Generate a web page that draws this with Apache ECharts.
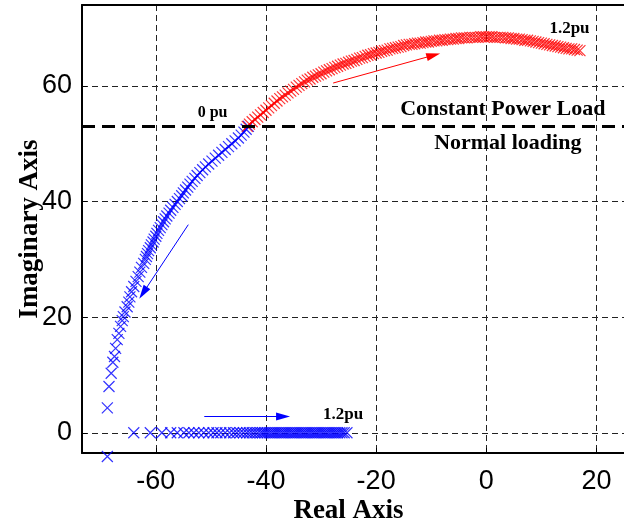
<!DOCTYPE html>
<html>
<head>
<meta charset="utf-8">
<script src="https://cdn.jsdelivr.net/npm/echarts@6/dist/echarts.min.js"></script>
<style>
  html, body { margin: 0; padding: 0; background: #fff; }
  #chart { width: 624px; height: 525px; }
</style>
</head>
<body>
<div id="chart"></div>
<script>
// Tick positions on both axes
const xTicks = [-60, -40, -20, 0, 20];
const yTicks = [0, 20, 40, 60];

// Eigenvalue trace under normal loading (0 pu at the top, moving down-left)
const blueComplexBranch = [
  [-43.2, 53.0], [-43.6, 52.5], [-44.0, 52.0], [-44.5, 51.5], [-45.0, 51.0],
  [-45.6, 50.5], [-46.2, 50.0], [-46.8, 49.5], [-47.4, 49.0], [-48.0, 48.5],
  [-48.6, 48.0], [-49.2, 47.5], [-49.8, 47.0], [-50.4, 46.5], [-51.0, 46.0],
  [-51.5, 45.5], [-52.0, 45.0], [-52.5, 44.5], [-52.9, 44.0], [-53.4, 43.5],
  [-53.8, 43.0], [-54.2, 42.5], [-54.6, 42.0], [-55.0, 41.5], [-55.3, 41.0],
  [-55.7, 40.5], [-56.1, 40.0], [-56.5, 39.5], [-56.9, 39.0], [-57.3, 38.5],
  [-57.6, 38.0], [-58.0, 37.5], [-58.3, 37.0], [-58.6, 36.5], [-58.9, 36.0],
  [-59.2, 35.5], [-59.5, 35.0], [-59.8, 34.5], [-60.0, 34.0], [-60.3, 33.5],
  [-60.5, 33.0], [-60.8, 32.5], [-61.0, 32.0], [-61.3, 31.5], [-61.5, 31.0],
  [-61.7, 30.5], [-61.9, 30.0], [-62.2, 29.3], [-62.6, 28.6], [-62.9, 27.8],
  [-63.2, 27.0], [-63.6, 26.2], [-64.0, 25.3], [-64.4, 24.4], [-64.7, 23.5],
  [-64.9, 22.6], [-65.2, 21.8], [-65.6, 20.9], [-65.9, 20.1], [-66.1, 19.4],
  [-66.4, 18.4], [-66.7, 17.2], [-67.0, 16.1], [-67.3, 14.6], [-67.5, 13.2],
  [-67.8, 12.2], [-68.1, 10.3], [-68.5, 8.0], [-68.8, 4.3], [-68.8, -4.1]
];

// Real-axis branch under normal loading (moves right up to 1.2 pu)
const blueRealBranchRe = [
  -64.0, -61.0, -58.9, -57.3, -56.1, -54.9, -54.0, -53.1, -52.2, -51.3,
  -50.4, -49.6, -48.9, -48.2, -47.4, -46.6, -45.9, -45.3, -44.7, -44.1,
  -43.5, -43.0, -42.5, -42.0, -41.5, -41.0, -40.6, -40.2, -39.8, -39.4,
  -39.0, -38.6, -38.2, -37.8, -37.4, -37.0, -36.6, -36.2, -35.8, -35.4,
  -35.0, -34.6, -34.2, -33.8, -33.4, -33.0, -32.6, -32.2, -31.8, -31.4,
  -31.0, -30.6, -30.2, -29.8, -29.4, -29.0, -28.6, -28.2, -27.8, -27.4,
  -27.0, -26.6, -26.2, -25.8, -25.3
];
const blueRealBranchIm = 0;

// Eigenvalue trace with constant power load (0 pu to 1.2 pu)
const redBranch = [
  [-43.4, 53.0], [-43.0, 53.4], [-42.5, 53.8], [-42.0, 54.2], [-41.5, 54.6],
  [-41.0, 55.0], [-40.5, 55.4], [-40.0, 55.8], [-39.5, 56.2], [-39.0, 56.6],
  [-38.5, 57.0], [-38.0, 57.4], [-37.5, 57.8], [-37.0, 58.1], [-36.5, 58.4],
  [-36.0, 58.8], [-35.5, 59.1], [-35.0, 59.4], [-34.5, 59.8], [-34.0, 60.1],
  [-33.5, 60.4], [-33.0, 60.7], [-32.5, 61.0], [-32.0, 61.2], [-31.5, 61.5],
  [-31.0, 61.7], [-30.5, 61.9], [-30.0, 62.1], [-29.5, 62.4], [-29.0, 62.6],
  [-28.5, 62.8], [-28.0, 63.0], [-27.5, 63.2], [-27.0, 63.4], [-26.5, 63.6],
  [-26.0, 63.8], [-25.5, 63.9], [-25.0, 64.1], [-24.5, 64.3], [-24.0, 64.4],
  [-23.5, 64.6], [-23.0, 64.8], [-22.5, 64.9], [-22.0, 65.1], [-21.5, 65.3],
  [-21.0, 65.4], [-20.5, 65.6], [-20.0, 65.7], [-19.5, 65.8], [-19.0, 66.0],
  [-18.5, 66.1], [-18.0, 66.2], [-17.5, 66.4], [-17.0, 66.5], [-16.5, 66.6],
  [-16.0, 66.7], [-15.5, 66.8], [-15.0, 67.0], [-14.5, 67.1], [-14.0, 67.2],
  [-13.5, 67.2], [-13.0, 67.3], [-12.5, 67.4], [-12.0, 67.4], [-11.5, 67.5],
  [-11.0, 67.6], [-10.5, 67.6], [-10.0, 67.7], [-9.5, 67.8], [-9.0, 67.8],
  [-8.5, 67.9], [-8.0, 67.9], [-7.5, 68.0], [-7.0, 68.0], [-6.5, 68.1],
  [-6.0, 68.1], [-5.5, 68.2], [-5.0, 68.2], [-4.5, 68.3], [-4.0, 68.3],
  [-3.5, 68.3], [-3.0, 68.4], [-2.5, 68.4], [-2.0, 68.4], [-1.5, 68.4],
  [-1.0, 68.5], [-0.5, 68.5], [0.0, 68.5], [0.5, 68.5], [1.0, 68.5],
  [1.5, 68.4], [2.0, 68.4], [2.5, 68.4], [3.0, 68.4], [3.5, 68.3],
  [4.0, 68.3], [4.5, 68.2], [5.0, 68.2], [5.5, 68.1], [6.0, 68.1],
  [6.5, 68.0], [7.0, 67.9], [7.5, 67.9], [8.0, 67.8], [8.5, 67.7],
  [9.0, 67.6], [9.5, 67.5], [10.0, 67.4], [10.5, 67.3], [11.0, 67.2],
  [11.5, 67.1], [12.0, 67.0], [12.5, 66.9], [13.0, 66.8], [13.5, 66.7],
  [14.0, 66.6], [14.5, 66.5], [15.0, 66.4], [15.5, 66.4], [16.0, 66.3],
  [16.5, 66.2], [17.0, 66.1]
];

// Dashed boundary between the two loading regions
const boundaryIm = 53;

// Direction arrows (start, end) in axis units
const redArrow = [[-27.8, 60.5], [-9.6, 65.3]];
const blueArrowDown = [[-54.1, 36.0], [-62.3, 24.2]];
const blueArrowRight = [[-51.2, 2.8], [-36.9, 2.8]];

// Text annotations: [label, re, im, fontSize]
const annotations = [
  ['0 pu', -49.7, 55.4, 16],
  ['Constant Power Load', 3.0, 56.0, 22],
  ['Normal loading', 3.9, 50.0, 22],
  ['1.2pu', 15.1, 70.0, 17],
  ['1.2pu', -26.0, 3.2, 17]
];

const CROSS = 'path://M0,0L10,10M10,0L0,10';
const BLUE = '#0000ff';
const RED = '#ff0000';
const INK = '#000000';
const GRID_LINE = { color: '#222', width: 1, type: [6, 4] };
const MARK_SIZE = 11;
const MARK_WIDTH = 1.2;

function arrowPair(seg) {
  return [{ coord: seg[0] }, { coord: seg[1] }];
}

const chart = echarts.init(document.getElementById('chart'), null, { renderer: 'canvas' });

chart.setOption({
  animation: false,
  backgroundColor: '#fff',
  grid: { left: 82, top: 5, right: 0, bottom: 72, containLabel: false, outerBoundsMode: 'none' },
  xAxis: [
    {
      type: 'value',
      min: -73.4,
      max: 25,
      name: 'Real Axis',
      nameLocation: 'middle',
      nameGap: 45,
      nameMoveOverlap: false,
      nameTextStyle: { fontFamily: 'Liberation Serif', fontWeight: 'bold', fontSize: 27, color: INK, padding: [0, 9, 0, 0] },
      axisLine: { onZero: false, lineStyle: { color: INK, width: 2 } },
      axisTick: { show: true, inside: true, length: 5, customValues: xTicks, lineStyle: { color: INK, width: 1 } },
      axisLabel: { customValues: xTicks, fontFamily: 'Liberation Sans', fontSize: 27, color: INK, margin: 15 },
      splitLine: { show: true, lineStyle: GRID_LINE }
    },
    {
      type: 'value',
      position: 'top',
      min: -73.4,
      max: 25,
      axisLine: { show: true, onZero: false, lineStyle: { color: INK, width: 2 } },
      axisTick: { show: false },
      axisLabel: { show: false },
      splitLine: { show: false }
    }
  ],
  yAxis: {
    type: 'value',
    min: -3.5,
    max: 74,
    name: 'Imaginary Axis',
    nameLocation: 'middle',
    nameRotate: 90,
    nameGap: 38,
    nameMoveOverlap: false,
    nameTextStyle: { fontFamily: 'Liberation Serif', fontWeight: 'bold', fontSize: 27, color: INK },
    axisLine: { show: true, onZero: false, lineStyle: { color: INK, width: 2 } },
    axisTick: { show: true, inside: true, length: 5, customValues: yTicks, lineStyle: { color: INK, width: 1 } },
    axisLabel: { customValues: yTicks, fontFamily: 'Liberation Sans', fontSize: 27, color: INK, margin: 10 },
    splitLine: { show: true, lineStyle: GRID_LINE }
  },
  series: [
    {
      name: 'Normal loading (real)',
      type: 'scatter',
      clip: false,
      symbol: CROSS,
      symbolSize: MARK_SIZE,
      itemStyle: { color: BLUE, borderColor: BLUE, borderWidth: MARK_WIDTH },
      data: blueRealBranchRe.map(re => [re, blueRealBranchIm]),
      markLine: {
        silent: true,
        symbol: 'none',
        label: { show: false },
        lineStyle: { color: INK, width: 3, type: [13, 7] },
        data: [{ yAxis: boundaryIm }]
      },
      markPoint: {
        silent: true,
        symbol: 'circle',
        symbolSize: 0,
        data: annotations.map(a => ({
          name: a[0],
          coord: [a[1], a[2]],
          label: {
            show: true,
            position: 'inside',
            formatter: a[0],
            fontFamily: 'Liberation Serif',
            fontWeight: 'bold',
            fontSize: a[3],
            color: INK
          }
        }))
      }
    },
    {
      name: 'Normal loading',
      type: 'scatter',
      clip: false,
      symbol: CROSS,
      symbolSize: MARK_SIZE,
      itemStyle: { color: BLUE, borderColor: BLUE, borderWidth: MARK_WIDTH },
      data: blueComplexBranch,
      markLine: {
        silent: true,
        symbol: ['none', 'triangle'],
        symbolSize: [8, 14],
        label: { show: false },
        lineStyle: { color: BLUE, width: 1, type: 'solid' },
        data: [arrowPair(blueArrowDown), arrowPair(blueArrowRight)]
      }
    },
    {
      name: 'Constant Power Load',
      type: 'scatter',
      clip: false,
      symbol: CROSS,
      symbolSize: MARK_SIZE,
      itemStyle: { color: RED, borderColor: RED, borderWidth: MARK_WIDTH },
      data: redBranch,
      markLine: {
        silent: true,
        symbol: ['none', 'triangle'],
        symbolSize: [8, 14],
        label: { show: false },
        lineStyle: { color: RED, width: 1, type: 'solid' },
        data: [arrowPair(redArrow)]
      }
    }
  ]
});
</script>
</body>
</html>
